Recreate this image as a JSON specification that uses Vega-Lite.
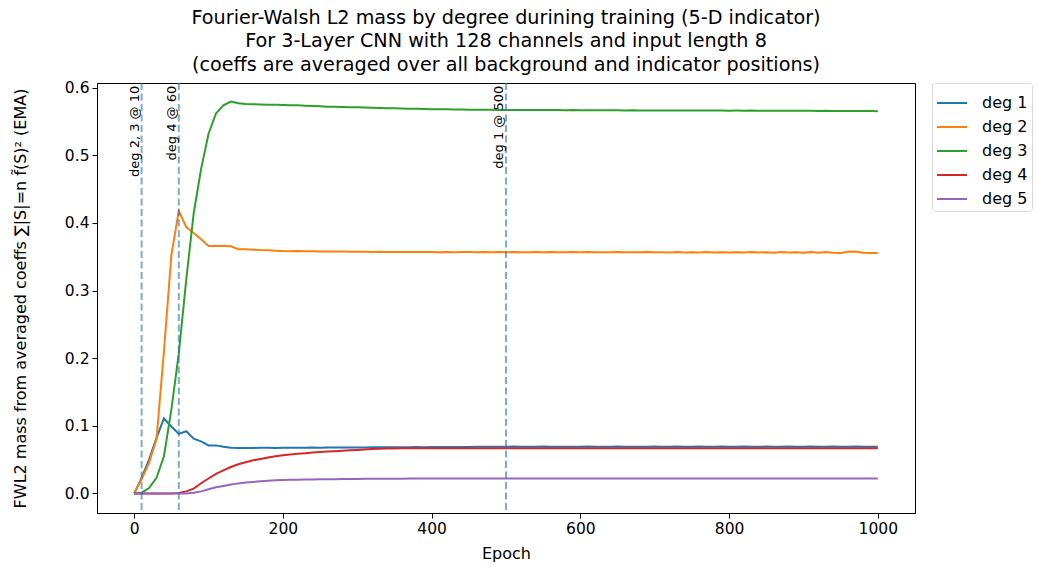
{
  "$schema": "https://vega.github.io/schema/vega-lite/v6.json",
  "autosize": {"type": "none"},
  "padding": {"left": 97, "top": 83, "right": 122, "bottom": 55},
  "width": 818,
  "height": 430,
  "background": "white",
  "title": {
    "text": ["Fourier-Walsh L2 mass by degree durining training (5-D indicator)", "For 3-Layer CNN with 128 channels and input length 8", "(coeffs are averaged over all background and indicator positions)"],
    "fontSize": 19.2, "font": "DejaVu Sans", "fontWeight": "normal", "color": "black", "lineHeight": 23.5, "anchor": "middle", "offset": 6
  },
  "config": {
    "font": "DejaVu Sans",
    "view": {"stroke": "black", "strokeWidth": 1},
    "axis": {"grid": false, "domainColor": "black", "tickColor": "black", "labelColor": "black", "titleColor": "black", "labelFontSize": 15.5, "titleFontSize": 16, "titleFontWeight": "normal", "tickSize": 5, "labelPadding": 3, "labelFont": "DejaVu Sans", "titleFont": "DejaVu Sans"}
  },
  "datasets": {
    "curves": [
      {"epoch": 0, "deg 1": 0, "deg 2": 0, "deg 3": 0, "deg 4": 0, "deg 5": 0},
      {"epoch": 10, "deg 1": 0.023, "deg 2": 0.021, "deg 3": 0.001, "deg 4": 0, "deg 5": 0},
      {"epoch": 20, "deg 1": 0.05, "deg 2": 0.045, "deg 3": 0.008, "deg 4": 0, "deg 5": 0},
      {"epoch": 30, "deg 1": 0.082, "deg 2": 0.08, "deg 3": 0.023, "deg 4": 0, "deg 5": 0},
      {"epoch": 40, "deg 1": 0.111, "deg 2": 0.21, "deg 3": 0.055, "deg 4": 0, "deg 5": 0},
      {"epoch": 50, "deg 1": 0.099, "deg 2": 0.352, "deg 3": 0.124, "deg 4": 0, "deg 5": 0},
      {"epoch": 60, "deg 1": 0.088, "deg 2": 0.418, "deg 3": 0.207, "deg 4": 0.0005, "deg 5": 0},
      {"epoch": 70, "deg 1": 0.092, "deg 2": 0.394, "deg 3": 0.316, "deg 4": 0.003, "deg 5": 0},
      {"epoch": 80, "deg 1": 0.081, "deg 2": 0.385, "deg 3": 0.414, "deg 4": 0.007, "deg 5": 0.001},
      {"epoch": 90, "deg 1": 0.077, "deg 2": 0.376, "deg 3": 0.48, "deg 4": 0.015, "deg 5": 0.003},
      {"epoch": 100, "deg 1": 0.071, "deg 2": 0.366, "deg 3": 0.532, "deg 4": 0.022, "deg 5": 0.006},
      {"epoch": 110, "deg 1": 0.071, "deg 2": 0.366, "deg 3": 0.562, "deg 4": 0.029, "deg 5": 0.009},
      {"epoch": 120, "deg 1": 0.069, "deg 2": 0.366, "deg 3": 0.574, "deg 4": 0.034, "deg 5": 0.011},
      {"epoch": 130, "deg 1": 0.0675, "deg 2": 0.3655, "deg 3": 0.5795, "deg 4": 0.039, "deg 5": 0.013},
      {"epoch": 140, "deg 1": 0.0672, "deg 2": 0.361, "deg 3": 0.577, "deg 4": 0.043, "deg 5": 0.0148},
      {"epoch": 150, "deg 1": 0.0672, "deg 2": 0.361, "deg 3": 0.576, "deg 4": 0.046, "deg 5": 0.016},
      {"epoch": 160, "deg 1": 0.0673, "deg 2": 0.3605, "deg 3": 0.5755, "deg 4": 0.049, "deg 5": 0.017},
      {"epoch": 170, "deg 1": 0.0675, "deg 2": 0.36, "deg 3": 0.5752, "deg 4": 0.051, "deg 5": 0.018},
      {"epoch": 180, "deg 1": 0.0674, "deg 2": 0.3598, "deg 3": 0.575, "deg 4": 0.053, "deg 5": 0.0187},
      {"epoch": 190, "deg 1": 0.0673, "deg 2": 0.359, "deg 3": 0.5748, "deg 4": 0.055, "deg 5": 0.0193},
      {"epoch": 200, "deg 1": 0.0675, "deg 2": 0.3585, "deg 3": 0.5745, "deg 4": 0.0565, "deg 5": 0.0197},
      {"epoch": 210, "deg 1": 0.0674, "deg 2": 0.3583, "deg 3": 0.5742, "deg 4": 0.0575, "deg 5": 0.02},
      {"epoch": 220, "deg 1": 0.0676, "deg 2": 0.3585, "deg 3": 0.574, "deg 4": 0.0585, "deg 5": 0.0203},
      {"epoch": 230, "deg 1": 0.0675, "deg 2": 0.358, "deg 3": 0.5735, "deg 4": 0.0595, "deg 5": 0.0205},
      {"epoch": 240, "deg 1": 0.0677, "deg 2": 0.358, "deg 3": 0.573, "deg 4": 0.0605, "deg 5": 0.0207},
      {"epoch": 250, "deg 1": 0.0676, "deg 2": 0.3578, "deg 3": 0.5725, "deg 4": 0.0612, "deg 5": 0.0209},
      {"epoch": 260, "deg 1": 0.0678, "deg 2": 0.3578, "deg 3": 0.572, "deg 4": 0.062, "deg 5": 0.021},
      {"epoch": 270, "deg 1": 0.0677, "deg 2": 0.3576, "deg 3": 0.5717, "deg 4": 0.0625, "deg 5": 0.0211},
      {"epoch": 280, "deg 1": 0.0679, "deg 2": 0.3577, "deg 3": 0.5714, "deg 4": 0.063, "deg 5": 0.0212},
      {"epoch": 290, "deg 1": 0.0678, "deg 2": 0.3575, "deg 3": 0.5711, "deg 4": 0.0637, "deg 5": 0.0213},
      {"epoch": 300, "deg 1": 0.068, "deg 2": 0.3574, "deg 3": 0.571, "deg 4": 0.0643, "deg 5": 0.0214},
      {"epoch": 310, "deg 1": 0.0679, "deg 2": 0.3574, "deg 3": 0.5707, "deg 4": 0.065, "deg 5": 0.0215},
      {"epoch": 320, "deg 1": 0.0681, "deg 2": 0.3572, "deg 3": 0.5704, "deg 4": 0.0655, "deg 5": 0.0215},
      {"epoch": 330, "deg 1": 0.0681, "deg 2": 0.3573, "deg 3": 0.5701, "deg 4": 0.066, "deg 5": 0.0216},
      {"epoch": 340, "deg 1": 0.0682, "deg 2": 0.3571, "deg 3": 0.5698, "deg 4": 0.0663, "deg 5": 0.0217},
      {"epoch": 350, "deg 1": 0.0682, "deg 2": 0.357, "deg 3": 0.5695, "deg 4": 0.0665, "deg 5": 0.0218},
      {"epoch": 360, "deg 1": 0.0684, "deg 2": 0.3572, "deg 3": 0.5692, "deg 4": 0.0666, "deg 5": 0.0218},
      {"epoch": 370, "deg 1": 0.0683, "deg 2": 0.357, "deg 3": 0.569, "deg 4": 0.0667, "deg 5": 0.0219},
      {"epoch": 380, "deg 1": 0.0685, "deg 2": 0.3571, "deg 3": 0.5688, "deg 4": 0.0667, "deg 5": 0.0219},
      {"epoch": 390, "deg 1": 0.0684, "deg 2": 0.3569, "deg 3": 0.5685, "deg 4": 0.0668, "deg 5": 0.022},
      {"epoch": 400, "deg 1": 0.0686, "deg 2": 0.357, "deg 3": 0.5683, "deg 4": 0.0668, "deg 5": 0.022},
      {"epoch": 410, "deg 1": 0.0685, "deg 2": 0.3568, "deg 3": 0.5681, "deg 4": 0.0668, "deg 5": 0.022},
      {"epoch": 420, "deg 1": 0.0687, "deg 2": 0.3571, "deg 3": 0.568, "deg 4": 0.0668, "deg 5": 0.022},
      {"epoch": 430, "deg 1": 0.0687, "deg 2": 0.3567, "deg 3": 0.5679, "deg 4": 0.0668, "deg 5": 0.022},
      {"epoch": 440, "deg 1": 0.0688, "deg 2": 0.357, "deg 3": 0.5677, "deg 4": 0.0668, "deg 5": 0.022},
      {"epoch": 450, "deg 1": 0.0688, "deg 2": 0.3569, "deg 3": 0.5676, "deg 4": 0.0668, "deg 5": 0.022},
      {"epoch": 460, "deg 1": 0.0689, "deg 2": 0.3566, "deg 3": 0.5676, "deg 4": 0.0668, "deg 5": 0.022},
      {"epoch": 470, "deg 1": 0.0689, "deg 2": 0.3569, "deg 3": 0.5674, "deg 4": 0.0668, "deg 5": 0.022},
      {"epoch": 480, "deg 1": 0.069, "deg 2": 0.3567, "deg 3": 0.5673, "deg 4": 0.0668, "deg 5": 0.0221},
      {"epoch": 490, "deg 1": 0.0689, "deg 2": 0.357, "deg 3": 0.5672, "deg 4": 0.0668, "deg 5": 0.0221},
      {"epoch": 500, "deg 1": 0.069, "deg 2": 0.3566, "deg 3": 0.5672, "deg 4": 0.0668, "deg 5": 0.0221},
      {"epoch": 510, "deg 1": 0.0692, "deg 2": 0.3569, "deg 3": 0.5671, "deg 4": 0.0668, "deg 5": 0.0221},
      {"epoch": 520, "deg 1": 0.0689, "deg 2": 0.3566, "deg 3": 0.5672, "deg 4": 0.0668, "deg 5": 0.0221},
      {"epoch": 530, "deg 1": 0.0691, "deg 2": 0.3568, "deg 3": 0.567, "deg 4": 0.0668, "deg 5": 0.0221},
      {"epoch": 540, "deg 1": 0.069, "deg 2": 0.3569, "deg 3": 0.567, "deg 4": 0.0668, "deg 5": 0.0221},
      {"epoch": 550, "deg 1": 0.0692, "deg 2": 0.3566, "deg 3": 0.5671, "deg 4": 0.0668, "deg 5": 0.0221},
      {"epoch": 560, "deg 1": 0.069, "deg 2": 0.357, "deg 3": 0.5669, "deg 4": 0.0668, "deg 5": 0.0221},
      {"epoch": 570, "deg 1": 0.0691, "deg 2": 0.3567, "deg 3": 0.567, "deg 4": 0.0668, "deg 5": 0.0221},
      {"epoch": 580, "deg 1": 0.0689, "deg 2": 0.3566, "deg 3": 0.5668, "deg 4": 0.0668, "deg 5": 0.0221},
      {"epoch": 590, "deg 1": 0.0691, "deg 2": 0.357, "deg 3": 0.5669, "deg 4": 0.0668, "deg 5": 0.0221},
      {"epoch": 600, "deg 1": 0.069, "deg 2": 0.3567, "deg 3": 0.5667, "deg 4": 0.0668, "deg 5": 0.0221},
      {"epoch": 610, "deg 1": 0.0692, "deg 2": 0.3569, "deg 3": 0.5668, "deg 4": 0.0668, "deg 5": 0.0221},
      {"epoch": 620, "deg 1": 0.069, "deg 2": 0.3565, "deg 3": 0.5667, "deg 4": 0.0668, "deg 5": 0.0221},
      {"epoch": 630, "deg 1": 0.0691, "deg 2": 0.3568, "deg 3": 0.5666, "deg 4": 0.0668, "deg 5": 0.0221},
      {"epoch": 640, "deg 1": 0.069, "deg 2": 0.3566, "deg 3": 0.5667, "deg 4": 0.0668, "deg 5": 0.0221},
      {"epoch": 650, "deg 1": 0.0692, "deg 2": 0.357, "deg 3": 0.5666, "deg 4": 0.0668, "deg 5": 0.0221},
      {"epoch": 660, "deg 1": 0.069, "deg 2": 0.3565, "deg 3": 0.5665, "deg 4": 0.0668, "deg 5": 0.0221},
      {"epoch": 670, "deg 1": 0.0691, "deg 2": 0.3568, "deg 3": 0.5666, "deg 4": 0.0668, "deg 5": 0.0221},
      {"epoch": 680, "deg 1": 0.0691, "deg 2": 0.3565, "deg 3": 0.5664, "deg 4": 0.0668, "deg 5": 0.0221},
      {"epoch": 690, "deg 1": 0.069, "deg 2": 0.3569, "deg 3": 0.5665, "deg 4": 0.0668, "deg 5": 0.0221},
      {"epoch": 700, "deg 1": 0.0692, "deg 2": 0.3565, "deg 3": 0.5664, "deg 4": 0.0668, "deg 5": 0.0221},
      {"epoch": 710, "deg 1": 0.0691, "deg 2": 0.3568, "deg 3": 0.5665, "deg 4": 0.0668, "deg 5": 0.0221},
      {"epoch": 720, "deg 1": 0.069, "deg 2": 0.3564, "deg 3": 0.5663, "deg 4": 0.0668, "deg 5": 0.0221},
      {"epoch": 730, "deg 1": 0.0692, "deg 2": 0.3569, "deg 3": 0.5664, "deg 4": 0.0668, "deg 5": 0.0221},
      {"epoch": 740, "deg 1": 0.0691, "deg 2": 0.3564, "deg 3": 0.5663, "deg 4": 0.0668, "deg 5": 0.0221},
      {"epoch": 750, "deg 1": 0.069, "deg 2": 0.3568, "deg 3": 0.5664, "deg 4": 0.0668, "deg 5": 0.0221},
      {"epoch": 760, "deg 1": 0.0692, "deg 2": 0.3563, "deg 3": 0.5662, "deg 4": 0.0668, "deg 5": 0.0221},
      {"epoch": 770, "deg 1": 0.0691, "deg 2": 0.3569, "deg 3": 0.5663, "deg 4": 0.0668, "deg 5": 0.0221},
      {"epoch": 780, "deg 1": 0.069, "deg 2": 0.3564, "deg 3": 0.5662, "deg 4": 0.0668, "deg 5": 0.0221},
      {"epoch": 790, "deg 1": 0.0692, "deg 2": 0.3567, "deg 3": 0.5663, "deg 4": 0.0668, "deg 5": 0.0221},
      {"epoch": 800, "deg 1": 0.0691, "deg 2": 0.3562, "deg 3": 0.5661, "deg 4": 0.0668, "deg 5": 0.0221},
      {"epoch": 810, "deg 1": 0.069, "deg 2": 0.3568, "deg 3": 0.5662, "deg 4": 0.0668, "deg 5": 0.0221},
      {"epoch": 820, "deg 1": 0.0692, "deg 2": 0.3563, "deg 3": 0.5661, "deg 4": 0.0668, "deg 5": 0.0221},
      {"epoch": 830, "deg 1": 0.0691, "deg 2": 0.3569, "deg 3": 0.5662, "deg 4": 0.0668, "deg 5": 0.0221},
      {"epoch": 840, "deg 1": 0.069, "deg 2": 0.3562, "deg 3": 0.566, "deg 4": 0.0668, "deg 5": 0.0221},
      {"epoch": 850, "deg 1": 0.0692, "deg 2": 0.3568, "deg 3": 0.5661, "deg 4": 0.0668, "deg 5": 0.0221},
      {"epoch": 860, "deg 1": 0.0691, "deg 2": 0.3561, "deg 3": 0.566, "deg 4": 0.0668, "deg 5": 0.0221},
      {"epoch": 870, "deg 1": 0.069, "deg 2": 0.357, "deg 3": 0.5661, "deg 4": 0.0668, "deg 5": 0.0221},
      {"epoch": 880, "deg 1": 0.0692, "deg 2": 0.3562, "deg 3": 0.5659, "deg 4": 0.0668, "deg 5": 0.0221},
      {"epoch": 890, "deg 1": 0.0691, "deg 2": 0.3568, "deg 3": 0.566, "deg 4": 0.0668, "deg 5": 0.0221},
      {"epoch": 900, "deg 1": 0.069, "deg 2": 0.356, "deg 3": 0.5658, "deg 4": 0.0668, "deg 5": 0.0221},
      {"epoch": 910, "deg 1": 0.0692, "deg 2": 0.3571, "deg 3": 0.5659, "deg 4": 0.0668, "deg 5": 0.0221},
      {"epoch": 920, "deg 1": 0.0691, "deg 2": 0.356, "deg 3": 0.5657, "deg 4": 0.0668, "deg 5": 0.0221},
      {"epoch": 930, "deg 1": 0.069, "deg 2": 0.3572, "deg 3": 0.5658, "deg 4": 0.0668, "deg 5": 0.0221},
      {"epoch": 940, "deg 1": 0.0692, "deg 2": 0.3558, "deg 3": 0.5656, "deg 4": 0.0668, "deg 5": 0.0221},
      {"epoch": 950, "deg 1": 0.0691, "deg 2": 0.3556, "deg 3": 0.5657, "deg 4": 0.0668, "deg 5": 0.0221},
      {"epoch": 960, "deg 1": 0.069, "deg 2": 0.3574, "deg 3": 0.5655, "deg 4": 0.0668, "deg 5": 0.0221},
      {"epoch": 970, "deg 1": 0.0692, "deg 2": 0.3576, "deg 3": 0.5656, "deg 4": 0.0668, "deg 5": 0.0221},
      {"epoch": 980, "deg 1": 0.0691, "deg 2": 0.3558, "deg 3": 0.5655, "deg 4": 0.0668, "deg 5": 0.0221},
      {"epoch": 990, "deg 1": 0.0691, "deg 2": 0.3555, "deg 3": 0.5655, "deg 4": 0.0668, "deg 5": 0.0221},
      {"epoch": 1000, "deg 1": 0.069, "deg 2": 0.3557, "deg 3": 0.5654, "deg 4": 0.0668, "deg 5": 0.0221}
    ],
    "marks": [
      {"epoch": 10, "label": "deg 2, 3 @ 10"},
      {"epoch": 60, "label": "deg 4 @ 60"},
      {"epoch": 500, "label": "deg 1 @ 500"}
    ]
  },
  "encoding": {
    "x": {
      "field": "epoch", "type": "quantitative",
      "scale": {"domain": [-50, 1050], "nice": false, "zero": false},
      "axis": {"values": [0, 200, 400, 600, 800, 1000], "format": "d", "title": "Epoch", "titlePadding": 9}
    }
  },
  "layer": [
    {
      "data": {"name": "curves"},
      "transform": [{"fold": ["deg 1", "deg 2", "deg 3", "deg 4", "deg 5"], "as": ["degree", "mass"]}],
      "mark": {"type": "line", "strokeWidth": 2},
      "encoding": {
        "y": {
          "field": "mass", "type": "quantitative",
          "scale": {"domain": [-0.029, 0.607], "nice": false, "zero": false},
          "axis": {"values": [0, 0.1, 0.2, 0.3, 0.4, 0.5, 0.6], "format": ".1f", "title": "FWL2 mass from averaged coeffs  ∑|S|=n f̃(S)² (EMA)", "titlePadding": 36}
        },
        "color": {
          "field": "degree", "type": "nominal",
          "scale": {"domain": ["deg 1", "deg 2", "deg 3", "deg 4", "deg 5"], "range": ["#1f77b4", "#ff7f0e", "#2ca02c", "#d62728", "#9467bd"]},
          "legend": {"orient": "none", "legendX": 835, "legendY": 0, "title": null, "symbolType": "stroke", "symbolStrokeWidth": 2, "symbolSize": 900, "labelFontSize": 16, "labelColor": "black", "labelFont": "DejaVu Sans", "strokeColor": "#d9d9d9", "cornerRadius": 3, "padding": 4, "labelOffset": 14, "rowPadding": 0, "fillColor": "white"}
        }
      }
    },
    {
      "data": {"name": "marks"},
      "mark": {"type": "rule", "color": "#1f77b4", "opacity": 0.6, "strokeDash": [7, 3.5], "strokeWidth": 2},
      "encoding": {}
    },
    {
      "data": {"name": "marks"},
      "mark": {"type": "text", "angle": 270, "align": "right", "baseline": "bottom", "fontSize": 13, "color": "black", "font": "DejaVu Sans"},
      "encoding": {
        "y": {"datum": 0.603, "type": "quantitative"},
        "text": {"field": "label"}
      }
    }
  ]
}
